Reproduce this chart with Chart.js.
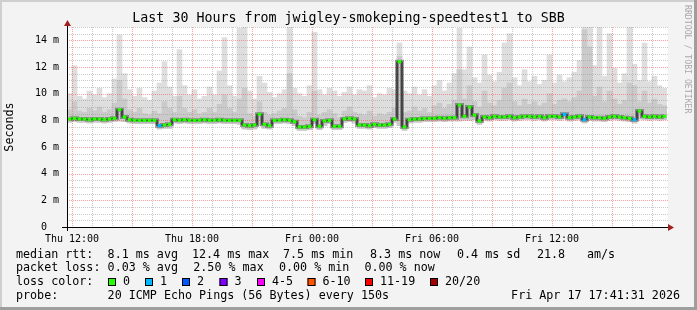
<!DOCTYPE html>
<html>
<head>
<meta charset="utf-8">
<script src="https://cdn.jsdelivr.net/npm/chart.js@4.4.1/dist/chart.umd.min.js"></script>
<style>
  html, body { margin: 0; padding: 0; background: #f3f3f3; }
  canvas { display: block; }
</style>
</head>
<body>
<canvas id="smokeChart" width="697" height="310"></canvas>
<script>
// 15 minute steps, first step starts Thu 11:45 (hours counted from Thu 00:00)
const startHour = 11.75;
const stepHours = 0.25;

// median rtt in ms
const median = [
  8.1, 8.15, 8.1, 8.1, 8.05, 8.1, 8.1, 8.05, 8.1, 8.15,
  8.8, 8.25, 8.05, 8.0, 8.0, 8.0, 8.0, 8.0, 7.6, 7.65,
  7.7, 8.05, 8.0, 8.05, 8.0, 8.0, 8.0, 8.05, 8.0, 8.0,
  8.05, 8.0, 8.0, 8.0, 8.0, 7.65, 7.6, 7.65, 8.45, 7.7,
  7.6, 8.0, 8.0, 8.05, 8.0, 7.9, 7.5, 7.5, 7.55, 8.05,
  7.55, 7.95, 8.0, 7.55, 7.55, 8.1, 8.15, 8.1, 7.65, 7.65,
  7.6, 7.7, 7.65, 7.65, 7.7, 8.1, 12.4, 7.5, 8.05, 8.1,
  8.1, 8.15, 8.15, 8.15, 8.2, 8.15, 8.2, 8.2, 9.15, 8.3,
  9.0, 8.4, 7.95, 8.25, 8.2, 8.3, 8.25, 8.25, 8.3, 8.2,
  8.25, 8.3, 8.3, 8.25, 8.3, 8.2, 8.3, 8.3, 8.25, 8.45,
  8.2, 8.25, 8.3, 8.05, 8.25, 8.2, 8.2, 8.15, 8.25, 8.3,
  8.25, 8.2, 8.15, 8.05, 8.7, 8.3, 8.25, 8.3, 8.25, 8.3
];

// slowest ping of each step
const pingMax = [
  10.0, 12.1, 9.8, 9.6, 10.2, 9.9, 10.4, 9.7, 10.0, 11.1,
  14.4, 11.5, 10.3, 9.8, 10.4, 9.7, 9.5, 10.2, 10.8, 12.4,
  10.5, 9.8, 13.3, 10.6, 9.9, 10.3, 9.6, 9.8, 10.5, 9.9,
  11.7, 14.2, 10.6, 9.8, 14.9, 15.0, 10.2, 9.6, 11.3, 10.8,
  10.1, 9.7, 10.0, 10.3, 15.0, 10.4, 10.0, 9.8, 10.6, 14.6,
  10.3, 9.9, 10.4, 10.2, 9.8, 10.1, 10.5, 9.9, 10.3, 10.2,
  10.6, 9.7, 10.0, 9.9, 10.4, 10.3, 13.8, 10.2, 10.0, 10.5,
  9.9, 10.3, 9.8, 10.6, 11.0, 10.2, 10.8, 11.5, 14.9, 11.8,
  13.5, 11.2, 10.8, 12.9, 11.4, 10.9, 11.6, 13.8, 14.5, 11.2,
  10.6, 11.8, 10.9, 11.3, 10.7, 11.0, 12.9, 10.8, 11.4, 10.9,
  11.2, 11.6, 12.5, 15.0, 15.0, 12.1, 15.0, 11.3, 14.5, 11.9,
  10.8, 11.5, 15.0, 12.2, 11.0, 13.8, 10.9, 11.3, 10.6, 10.4
];

// upper edge of the denser part of the smoke
const pingMid = [
  8.8, 9.4, 8.7, 8.6, 8.9, 8.7, 9.0, 8.6, 8.8, 9.3,
  11.0, 9.6, 8.8, 8.6, 8.9, 8.5, 8.4, 8.7, 8.5, 9.4,
  8.9, 8.6, 9.8, 8.9, 8.6, 8.8, 8.5, 8.6, 8.9, 8.6,
  9.2, 9.9, 8.9, 8.6, 9.6, 10.4, 8.5, 8.3, 9.4, 8.6,
  8.4, 8.5, 8.7, 8.9, 11.5, 8.8, 8.3, 8.2, 8.6, 10.2,
  8.4, 8.6, 8.8, 8.5, 8.2, 8.7, 9.0, 8.6, 8.5, 8.4,
  8.7, 8.3, 8.5, 8.4, 8.6, 8.9, 12.8, 8.6, 8.7, 9.0,
  8.7, 8.9, 8.6, 9.1, 9.3, 8.9, 9.2, 9.5, 11.8, 9.6,
  10.6, 9.4, 9.0, 10.2, 9.3, 9.1, 9.5, 10.4, 10.8, 9.4,
  9.1, 9.6, 9.2, 9.4, 9.1, 9.3, 10.0, 9.2, 9.5, 9.6,
  9.4, 9.7, 10.2, 14.8, 13.5, 9.8, 10.5, 9.4, 10.2, 9.6,
  9.2, 9.5, 10.8, 10.6, 9.4, 10.2, 9.3, 9.6, 9.2, 9.1
];

// fastest ping of each step
const pingMin = [
  7.85, 7.9, 7.85, 7.85, 7.8, 7.85, 7.85, 7.8, 7.85, 7.9,
  7.95, 7.9, 7.8, 7.75, 7.75, 7.75, 7.75, 7.75, 7.35, 7.4,
  7.4, 7.8, 7.75, 7.8, 7.75, 7.75, 7.75, 7.8, 7.75, 7.75,
  7.8, 7.75, 7.75, 7.75, 7.7, 7.35, 7.3, 7.35, 7.6, 7.4,
  7.35, 7.75, 7.75, 7.8, 7.75, 7.6, 7.25, 7.25, 7.3, 7.75,
  7.3, 7.6, 7.75, 7.3, 7.3, 7.85, 7.9, 7.8, 7.4, 7.4,
  7.35, 7.45, 7.4, 7.4, 7.45, 7.85, 7.6, 7.25, 7.8, 7.85,
  7.85, 7.9, 7.9, 7.9, 7.95, 7.9, 7.95, 7.95, 7.95, 8.0,
  8.0, 8.05, 7.7, 8.0, 7.95, 8.05, 8.0, 8.0, 8.05, 7.95,
  8.0, 8.05, 8.05, 8.0, 8.05, 7.95, 8.05, 8.05, 8.0, 8.1,
  7.95, 8.0, 8.05, 7.8, 8.0, 7.95, 7.95, 7.9, 8.0, 8.05,
  8.0, 7.95, 7.9, 7.8, 8.1, 8.05, 8.0, 8.05, 8.0, 8.05
];

// lost pings per step (index into lossColors)
const loss = [
  0, 0, 0, 0, 0, 0, 0, 0, 0, 0,  0, 0, 0, 0, 0, 0, 0, 0, 1, 0,
  0, 0, 0, 0, 0, 0, 0, 0, 0, 0,  0, 0, 0, 0, 0, 0, 0, 0, 0, 0,
  0, 0, 0, 0, 0, 0, 0, 0, 0, 0,  0, 0, 0, 0, 0, 0, 0, 0, 0, 0,
  0, 0, 0, 0, 0, 0, 0, 0, 0, 0,  0, 0, 0, 0, 0, 0, 0, 0, 0, 0,
  0, 0, 0, 0, 0, 0, 0, 0, 0, 0,  0, 0, 0, 0, 0, 0, 0, 0, 0, 1,
  0, 0, 0, 1, 0, 0, 0, 0, 0, 0,  0, 0, 0, 1, 0, 0, 0, 0, 0, 0
];

const lossLabels = ['0', '1', '2', '3', '4-5', '6-10', '11-19', '20/20'];
const lossColors = ['#26ff00', '#00b8ff', '#0059ff', '#7e00ff', '#ff00ff', '#ff5500', '#ff0000', '#a10000'];

const xTickHours = [12, 18, 24, 30, 36];
const xTickLabels = ['Thu 12:00', 'Thu 18:00', 'Fri 00:00', 'Fri 06:00', 'Fri 12:00'];
const yTickValues = [0, 2, 4, 6, 8, 10, 12, 14];
const yTickLabels = ['0  ', '2 m', '4 m', '6 m', '8 m', '10 m', '12 m', '14 m'];

const titleText = 'Last 30 Hours from jwigley-smokeping-speedtest1 to SBB';
const legendRows = [
  { y: 254.5, items: [[16, 'median rtt:'], [107.6, '8.1 ms avg'], [192, '12.4 ms max'], [283, '7.5 ms min'], [370, '8.3 ms now'], [457, '0.4 ms sd'], [537, '21.8'], [587, 'am/s']] },
  { y: 268.3, items: [[16, 'packet loss:'], [107.6, '0.03 % avg'], [193.3, '2.50 % max'], [279, '0.00 % min'], [364.4, '0.00 % now']] },
  { y: 282.2, items: [[16, 'loss color:']] },
  { y: 296, items: [[16, 'probe:'], [107.6, '20 ICMP Echo Pings (56 Bytes) every 150s']] }
];
const lossKeyX = [108, 145, 182, 219.5, 257, 307.5, 365, 430];
const stampText = 'Fri Apr 17 17:41:31 2026';

const times = median.map((_, i) => startHour + stepHours * (i + 0.5));
const medianPts = times.map((t, i) => ({ x: t, y: median[i] }));
const outerBars = times.map((t, i) => ({ x: t, y: [pingMin[i], pingMax[i]] }));
const midBars = times.map((t, i) => ({ x: t, y: [pingMin[i], pingMid[i]] }));

const MONO = "'DejaVu Sans Mono', monospace";
Chart.defaults.font.family = MONO;
Chart.defaults.color = '#000';

function px(v) { return Math.round(v) + 0.5; }

const decor = {
  id: 'decor',
  beforeDraw(chart) {
    const { ctx, chartArea: a } = chart;
    ctx.save();
    ctx.fillStyle = '#f3f3f3';
    ctx.fillRect(0, 0, 697, 310);
    ctx.fillStyle = '#cfcfcf';
    ctx.fillRect(0, 0, 697, 2);
    ctx.fillRect(0, 0, 2, 310);
    ctx.fillStyle = '#9e9e9e';
    ctx.fillRect(694, 0, 3, 310);
    ctx.fillRect(0, 307, 697, 3);
    ctx.fillStyle = '#ffffff';
    ctx.fillRect(a.left, a.top, a.right - a.left + 1, a.bottom - a.top);
    ctx.restore();
  },
  afterDatasetDraw(chart, args) {
    if (args.index !== 3) return;
    const { ctx, chartArea: a, scales: { x, y } } = chart;
    ctx.save();
    ctx.lineWidth = 1;
    ctx.setLineDash([1, 1]);
    for (let h = 12; h <= 41; h++) {
      const xp = px(x.getPixelForValue(h));
      ctx.strokeStyle = h % 3 === 0 ? 'rgba(255,80,80,0.55)' : 'rgba(150,150,150,0.5)';
      ctx.beginPath(); ctx.moveTo(xp, a.top); ctx.lineTo(xp, a.bottom); ctx.stroke();
    }
    for (let v = 0.5; v <= 15; v += 0.5) {
      const yp = px(y.getPixelForValue(v));
      ctx.strokeStyle = v % 2 === 0 ? 'rgba(255,80,80,0.55)' : 'rgba(150,150,150,0.5)';
      ctx.beginPath(); ctx.moveTo(a.left, yp); ctx.lineTo(a.right + 1, yp); ctx.stroke();
    }
    ctx.restore();
  },
  afterDraw(chart) {
    const { ctx, chartArea: a } = chart;
    ctx.save();
    // axes + arrows
    ctx.strokeStyle = '#000';
    ctx.lineWidth = 1;
    ctx.beginPath();
    ctx.moveTo(a.left - 5, a.bottom + 0.5); ctx.lineTo(a.right + 3, a.bottom + 0.5);
    ctx.moveTo(a.left + 0.5, a.bottom + 4); ctx.lineTo(a.left + 0.5, a.top - 4);
    ctx.stroke();
    ctx.fillStyle = '#a0201f';
    ctx.beginPath();
    ctx.moveTo(a.left - 3, a.top - 1); ctx.lineTo(a.left + 4, a.top - 1); ctx.lineTo(a.left + 0.5, a.top - 7);
    ctx.closePath(); ctx.fill();
    ctx.beginPath();
    ctx.moveTo(a.right + 1, a.bottom - 3); ctx.lineTo(a.right + 1, a.bottom + 4); ctx.lineTo(a.right + 7, a.bottom + 0.5);
    ctx.closePath(); ctx.fill();

    // title
    ctx.fillStyle = '#000';
    ctx.textBaseline = 'middle';
    ctx.textAlign = 'center';
    ctx.font = '13.3px ' + MONO;
    ctx.fillText(titleText, 348.5, 19);

    // legend
    ctx.textAlign = 'left';
    ctx.font = '11.7px ' + MONO;
    legendRows.forEach(row => row.items.forEach(([x, t]) => ctx.fillText(t, x, row.y)));
    lossLabels.forEach((lab, i) => {
      const x0 = lossKeyX[i];
      ctx.fillStyle = lossColors[i];
      ctx.fillRect(x0, 278, 8, 8);
      ctx.strokeStyle = '#000';
      ctx.strokeRect(x0 + 0.5, 278.5, 7, 7);
      ctx.fillStyle = '#000';
      ctx.fillText(lab, x0 + 15, 282.2);
    });
    ctx.textAlign = 'right';
    ctx.fillText(stampText, 680, 296);

    // side credit
    ctx.translate(687.5, 5);
    ctx.rotate(Math.PI / 2);
    ctx.textAlign = 'left';
    ctx.fillStyle = '#a8a8a8';
    ctx.font = '8.2px ' + MONO;
    ctx.fillText('RRDTOOL / TOBI OETIKER', 0, 0);
    ctx.restore();
  }
};

new Chart(document.getElementById('smokeChart'), {
  type: 'bar',
  data: {
    datasets: [
      { type: 'line', label: 'loss', data: medianPts, showLine: false, pointStyle: 'line',
        pointRadius: 2, pointHoverRadius: 2, pointBorderWidth: 3, pointHoverBorderWidth: 3,
        pointBorderColor: c => lossColors[loss[c.dataIndex]], order: 1 },
      { type: 'line', label: 'median', data: medianPts, stepped: 'middle', borderColor: '#000',
        borderWidth: 1, pointRadius: 0, order: 2 },
      { type: 'line', label: 'smoke core', data: medianPts, stepped: 'middle', borderColor: 'rgba(70,70,70,0.5)',
        borderWidth: 4, pointRadius: 0, order: 3 },
      { label: 'smoke mid', data: midBars, backgroundColor: '#cacaca', order: 4 },
      { label: 'smoke', data: outerBars, backgroundColor: '#dedede', order: 5 }
    ]
  },
  options: {
    responsive: false,
    animation: false,
    devicePixelRatio: 1,
    events: [],
    layout: { padding: { left: 0, right: 30, top: 27, bottom: 63 } },
    datasets: { bar: { barPercentage: 1, categoryPercentage: 1, grouped: false, borderWidth: 0 } },
    plugins: { legend: { display: false }, tooltip: { enabled: false }, title: { display: false } },
    scales: {
      x: {
        type: 'linear', min: 11.75, max: 41.75, offset: false,
        afterBuildTicks: s => { s.ticks = xTickHours.map(v => ({ value: v })); },
        afterFit: s => { s.height = 20; },
        grid: { display: false, drawTicks: false, offset: false },
        border: { display: false },
        ticks: { autoSkip: false, maxRotation: 0, padding: 6, font: { size: 10 },
          callback: v => xTickLabels[xTickHours.indexOf(v)] }
      },
      y: {
        min: 0, max: 15,
        afterBuildTicks: s => { s.ticks = yTickValues.map(v => ({ value: v })); },
        afterFit: s => { s.width = 67; },
        grid: { display: false, drawTicks: false },
        border: { display: false },
        title: { display: true, text: 'Seconds', font: { size: 11.7 }, padding: { top: 3, bottom: 0 } },
        ticks: { padding: 8, font: { size: 10 },
          callback: v => yTickLabels[yTickValues.indexOf(v)] }
      }
    }
  },
  plugins: [decor]
});
</script>
</body>
</html>
